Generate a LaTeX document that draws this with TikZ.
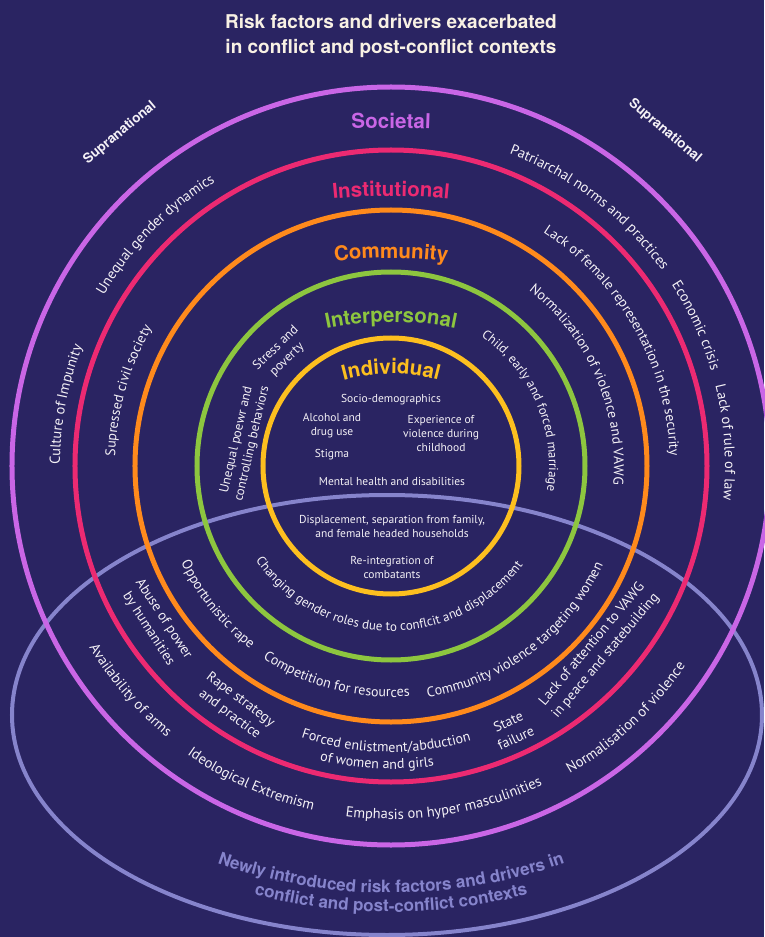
\documentclass[tikz,border=0pt]{standalone}
\usepackage{fontspec}
\setmainfont{PT Sans}
\newfontfamily\headfont{TeX Gyre Heros}
\usetikzlibrary{decorations.text}

\definecolor{bgnavy}{HTML}{2A2462}
\definecolor{societal}{HTML}{C966E6}
\definecolor{institutional}{HTML}{EC2A72}
\definecolor{community}{HTML}{FF8A1C}
\definecolor{interpersonal}{HTML}{8DC63F}
\definecolor{individual}{HTML}{FDBF1F}
\definecolor{newly}{HTML}{8684CC}
\definecolor{ink}{HTML}{F4F1F6}
\definecolor{cream}{HTML}{F8F1E4}

% text on an arc round the centre: radius, middle angle, size, text
\newcommand\toptext[4]{%
  \path[decorate,decoration={text along path,text align=center,
    text={|\fontsize{#3}{#3}\selectfont\color{ink}|#4}}]
    (#2+80:#1) arc[start angle=#2+80,end angle=#2-80,radius=#1];}
\newcommand\bottext[4]{%
  \path[decorate,decoration={text along path,text align=center,
    text={|\fontsize{#3}{#3}\selectfont\color{ink}|#4}}]
    (#2-80:#1) arc[start angle=#2-80,end angle=#2+80,radius=#1];}
% ring title: top of baseline, bend radius, colour, text
\newcommand\ringtitle[4]{%
  \path[decorate,decoration={text along path,text align=center,
    text={|\headfont\bfseries\fontsize{20.5}{20.5}\selectfont\color{#3}|#4}}]
    (0,#1-#2) ++(130:#2) arc[start angle=130,end angle=50,radius=#2];}

\begin{document}
\begin{tikzpicture}[x=1pt,y=1pt,
  ring/.style={line width=5pt},
  item/.style={text=ink,align=center,font=\fontsize{11.5}{14}\selectfont,inner sep=0pt},
  band/.style={text=ink,align=center,font=\fontsize{14}{18}\selectfont,inner sep=0pt},
  inner band/.style={band,font=\fontsize{13}{16}\selectfont},
  supra/.style={text=ink,inner sep=0pt,font=\headfont\bfseries\fontsize{13.5}{16}\selectfont}]
  \useasboundingbox (-391,466) rectangle (373,-471);
  \fill[bgnavy] (-391,466) rectangle (373,-471);
  \coordinate (ctr) at (0,0);

  % newly introduced factors
  \draw[newly,line width=4pt] (-4,-249) ellipse[x radius=375,y radius=220];
  % levels
  \foreach \r/\c in {379/societal,316/institutional,256/community,194/interpersonal,128/individual}
    \draw[ring,\c] (ctr) circle[radius=\r];

  \node[text=cream,align=center,font=\headfont\bfseries\fontsize{19}{25}\selectfont] (title) at (0,430.5)
    {Risk factors and drivers exacerbated\\in conflict and post-conflict contexts};
  \node[supra,rotate=40] (supraL) at (-271,333) {Supranational};
  \node[supra,rotate=-40] (supraR) at (274,335) {Supranational};

  \ringtitle{338}{1000}{societal}{Societal}
  \ringtitle{270}{600}{institutional}{Institutional}
  \ringtitle{208}{450}{community}{Community}
  \ringtitle{144}{320}{interpersonal}{Interpersonal}
  \ringtitle{92}{180}{individual}{Individual}

  % societal
  \toptext{334}{135.5}{14.5}{Unequal gender dynamics}
  \toptext{331}{169.3}{14.5}{Culture of Impunity}
  \toptext{334}{52.5}{14.5}{Patriarchal norms and practices}
  \toptext{334}{24.7}{14.5}{Economic crisis}
  \toptext{334}{4}{14.5}{Lack of rule of law}
  \bottext{352}{220.7}{14.5}{Availability of arms}
  \bottext{353}{246}{14.5}{Ideological Extremism}
  \bottext{353}{279}{14.5}{Emphasis on hyper masculinities}
  \bottext{356}{313}{14.5}{Normalisation of violence}
  % institutional
  \toptext{276}{164}{14}{Supressed civil society}
  \toptext{279}{29.5}{14}{Lack of female representation in the security}
  \bottext{286}{269}{14}{Forced enlistment/abduction}
  \bottext{303}{267.3}{14}{of women and girls}
  \node[band,rotate=-57] (abuse) at (-235,-158) {Abuse of power\\by humanities};
  \node[band,rotate=-37] (rape) at (-156,-241) {Rape strategy\\and practice};
  \node[band,rotate=25] (state) at (121,-264) {State\\failure};
  \node[band,rotate=50] (attention) at (208,-184) {Lack of attention to VAWG\\in peace and statebuilding};
  % community
  \toptext{223}{23.5}{14}{Normalization of violence and VAWG}
  \bottext{231}{218.6}{14}{Opportunistic rape}
  \bottext{231}{255.5}{14}{Competition for resources}
  \bottext{234}{307}{14}{Community violence targeting women}
  % interpersonal
  \toptext{158}{23}{13}{Child, early and forced marriage}
  \bottext{165}{269}{13}{Changing gender roles due to conflcit and displacement}
  \node[inner band,rotate=77] (power) at (-146.5,24.3) {Unequal poewr and\\controlling behaviors};
  \node[inner band,rotate=44] (stress) at (-109.5,112) {Stress and\\poverty};
  % individual
  \node[item] (socio) at (0,66) {Socio-demographics};
  \node[item] (alcohol) at (-59,40) {Alcohol and\\drug use};
  \node[item] (experience) at (50,33) {Experience of\\violence during\\childhood};
  \node[item] (stigma) at (-59,11) {Stigma};
  \node[item] (mental) at (1,-15) {Mental health and disabilities};
  \node[item] (displacement) at (1,-60) {Displacement, separation from family,\\and female headed households};
  \node[item] (reintegration) at (1,-101) {Re-integration of\\combatants};

  % caption of the ellipse
  \path[decorate,decoration={text along path,text align=center,
    text={|\headfont\bfseries\fontsize{17}{17}\selectfont\color{newly}|Newly introduced risk factors and drivers in}}]
    (0,93) ++(245:520) arc[start angle=245,end angle=295,radius=520];
  \path[decorate,decoration={text along path,text align=center,
    text={|\headfont\bfseries\fontsize{17}{17}\selectfont\color{newly}|conflict and post-conflict contexts}}]
    (0,93) ++(250:539) arc[start angle=250,end angle=290,radius=539];
\end{tikzpicture}
\end{document}
